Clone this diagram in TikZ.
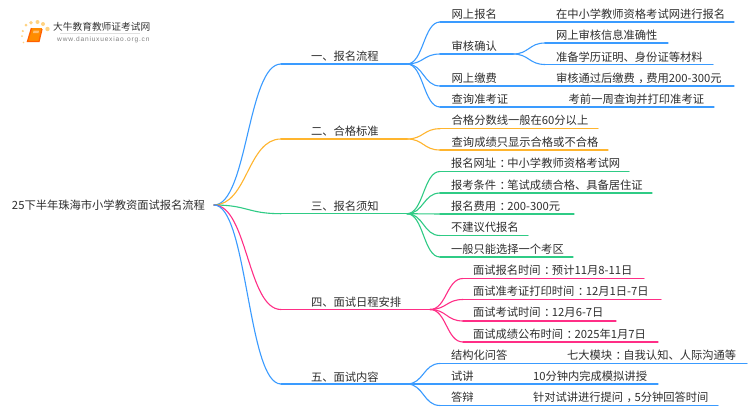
\documentclass[tikz,border=0pt]{standalone}
\usepackage{fontspec}
\setmainfont{Noto Sans CJK SC}
\newfontfamily\urlfont[LetterSpace=12]{Liberation Sans}
\usetikzlibrary{calc}
\definecolor{cblue}{HTML}{3A9BFF}
\definecolor{corange}{HTML}{FFB52E}
\definecolor{cgreen}{HTML}{2FCB85}
\definecolor{cpink}{HTML}{FF2E86}
\definecolor{ctxt}{HTML}{2E2E2E}
\tikzset{
  txt/.style={anchor=west,inner sep=0pt,outer sep=0pt,text=ctxt,font=\fontsize{11.28pt}{13pt}\selectfont},
  link/.style={line width=1.1pt,line cap=round}
}
\newcommand{\curve}[3]{\draw[link,#1] (#2) .. controls ($(#2)!0.5!(#3 |- #2)$) and ($(#3)!0.5!(#2 |- #3)$) .. (#3);}
\newcommand{\fw}[1]{\kern.3em #1\kern-.3em}
\begin{document}
\begin{tikzpicture}[x=1pt,y=-1pt]
\useasboundingbox[fill=white] (0,0) rectangle (750,410);
% logo
\fill[corange!60] (26,25) circle (1.5pt) (31,22.7) circle (1.9pt) (37.5,22) circle (2pt) (43,24) circle (2pt) (47.5,29) circle (2.2pt) (22.8,31) circle (1.2pt) (22,36) circle (1pt) (23.5,42.5) circle (0.9pt);
\fill[orange!90!yellow] (31.5,28) -- (42,28) -- (39,41) -- (28,41) -- cycle;
\draw[orange!75!red,line width=1.3pt] (31.5,28) -- (27.5,41.5) -- (39,41.5) -- (42,29);
\fill[white,opacity=.45] (33.5,30.5) -- (39,30.5) -- (38.5,33) -- (33,33) -- cycle;
\draw[black!12,line width=.8pt] (60,33.5) -- (140,33.5);
\node[inner sep=0pt,anchor=west,text=black!80] (logotitle) at (53,27) {\fontsize{9.7pt}{11pt}\selectfont 大牛教育教师证考试网};
\node[inner sep=0pt,anchor=west,text=black!50] (logourl) at (57,39.3) {\urlfont\fontsize{6.6pt}{8pt}\selectfont www.daniuxuexiao.org.cn};
% root
\node[txt] (root) at (12,205) {25下半年珠海市小学教资面试报名流程};
\coordinate (r) at (214,205);
% level 1
\foreach \n/\xa/\ya/\xb in {a/281/64/407,b/281/139/407,c/281/213.7/407,d/281/309.5/430,e/281/384/407}{
  \coordinate (\n s) at (\xa,\ya);
  \coordinate (\n e) at (\xb,\ya);
}
\curve{cblue}{r}{as} \draw[link,cblue] (as) -- (ae);
\curve{corange}{r}{bs} \draw[link,corange] (bs) -- (be);
\curve{cgreen}{r}{cs} \draw[link,cgreen] (cs) -- (ce);
\curve{cpink}{r}{ds} \draw[link,cpink] (ds) -- (de);
\curve{cblue}{r}{es} \draw[link,cblue] (es) -- (ee);
\node[txt] (na) at (311,56) {一、报名流程};
\node[txt] (nb) at (311,131) {二、合格标准};
\node[txt] (nc) at (311,206) {三、报名须知};
\node[txt] (nd) at (311,302) {四、面试日程安排};
\node[txt] (ne) at (311,377) {五、面试内容};
% level 2
\foreach \p/\n/\x/\y/\xe/\c in {
  ae/a1/440/22/734/cblue,
  ae/a2/440/54/513/cblue,
  ae/a3/440/86/734/cblue,
  ae/a4/440/107/714/cblue,
  be/b1/440/128.7/598/corange,
  be/b2/440/150/608/corange,
  ce/c1/440/171.5/629/cgreen,
  ce/c2/440/193/652/cgreen,
  ce/c3/440/214/574/cgreen,
  ce/c4/440/235.5/528/cgreen,
  ce/c5/440/257/573/cgreen,
  de/d1/463/278.5/644/cpink,
  de/d2/463/299.5/661/cpink,
  de/d3/463/321/616/cpink,
  de/d4/463/342/658/cpink,
  ee/e1/440/363.5/747/cblue,
  ee/e2/440/384/658/cblue,
  ee/e3/440/405.5/718/cblue}{
  \coordinate (\n) at (\x,\y);
  \coordinate (\n x) at (\xe,\y);
  \curve{\c}{\p}{\n}
  \draw[link,\c] (\n) -- (\n x);
}
% level 3 under 审核确认
\coordinate (a2a) at (545,43);
\coordinate (a2b) at (545,64.5);
\coordinate (a2ax) at (668,43);
\coordinate (a2bx) at (713,64.5);
\curve{cblue}{a2x}{a2a} \draw[link,cblue] (a2a) -- (a2ax);
\curve{cblue}{a2x}{a2b} \draw[link,cblue] (a2b) -- (a2bx);
% texts
\node[txt] (t1) at (451.7,14) {网上报名};
\node[txt] (t1a) at (556,14) {在中小学教师资格考试网进行报名};
\node[txt] (t2) at (451.7,46) {审核确认};
\node[txt] (t2a) at (556,35) {网上审核信息准确性};
\node[txt] (t2b) at (556,57) {准备学历证明、身份证等材料};
\node[txt] (t3) at (451.7,78) {网上缴费};
\node[txt] (t3a) at (556,78) {审核通过后缴费\fw{，}费用200-300元};
\node[txt] (t4) at (451.7,99) {查询准考证};
\node[txt] (t4a) at (568.7,99) {考前一周查询并打印准考证};
\node[txt] (t5) at (451.7,120.5) {合格分数线一般在60分以上};
\node[txt] (t6) at (451.7,142) {查询成绩只显示合格或不合格};
\node[txt] (t7) at (451,163) {报名网址\fw{：}中小学教师资格考试网};
\node[txt] (t8) at (451,185) {报考条件\fw{：}笔试成绩合格、具备居住证};
\node[txt] (t9) at (451,206) {报名费用\fw{：}200-300元};
\node[txt] (t10) at (451,227) {不建议代报名};
\node[txt] (t11) at (451,249) {一般只能选择一个考区};
\node[txt] (t12) at (473,270) {面试报名时间\fw{：}预计11月8-11日};
\node[txt] (t13) at (473,291) {面试准考证打印时间\fw{：}12月1日-7日};
\node[txt] (t14) at (473,312) {面试考试时间\fw{：}12月6-7日};
\node[txt] (t15) at (473,334) {面试成绩公布时间\fw{：}2025年1月7日};
\node[txt] (t16) at (451,355) {结构化问答};
\node[txt] (t16a) at (567,355) {七大模块\fw{：}自我认知、人际沟通等};
\node[txt] (t17) at (451,376) {试讲};
\node[txt] (t17a) at (533,376) {10分钟内完成模拟讲授};
\node[txt] (t18) at (451,397) {答辩};
\node[txt] (t18a) at (533,397) {针对试讲进行提问\fw{，}5分钟回答时间};
\end{tikzpicture}
\end{document}
